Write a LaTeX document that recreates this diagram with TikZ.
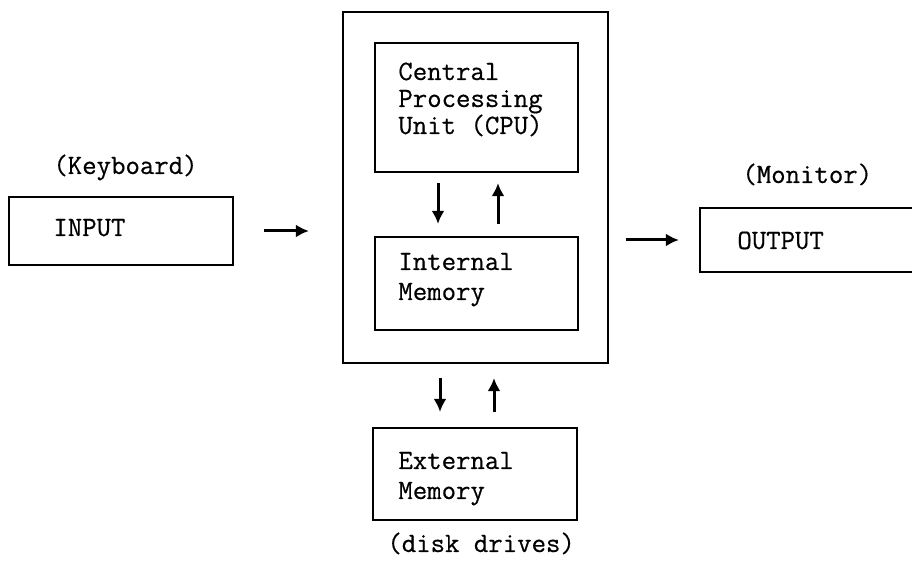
\documentclass[tikz,border=0pt]{standalone}
\usepackage{fontspec}
\newfontfamily\typew{Latin Modern Mono}[FakeBold=0.5]
\usetikzlibrary{arrows.meta}
\tikzset{
  box/.style={draw=black, line width=1.1pt, inner sep=0pt},
  txt/.style={font=\typew\fontsize{14}{15}\selectfont, inner sep=0pt, anchor=base west},
  arr/.style={line width=1.5pt, -{Latex[length=6.5pt,width=6.5pt]}}
}
\begin{document}
\begin{tikzpicture}[x=0.5pt,y=-0.5pt]
\useasboundingbox (0,0) rectangle (912,566);
\clip (0,0) rectangle (912,566);
% boxes
\node[box, minimum width=132.5pt, minimum height=175.5pt] (outer) at (475.5,187.5) {};
\node[box, minimum width=101.5pt, minimum height=64.5pt] (cpu) at (476.5,107.5) {};
\node[box, minimum width=101.5pt, minimum height=46.5pt] (mem) at (476.5,283.5) {};
\node[box, minimum width=102pt, minimum height=46pt] (ext) at (475,474) {};
\node[box, minimum width=112pt, minimum height=34pt] (input) at (121,231) {};
\node[box, minimum width=115pt, minimum height=32pt] (output) at (815,240) {};
% texts
\node[txt] (cpu1) at (398,80) {Central};
\node[txt] (cpu2) at (398,107) {Processing};
\node[txt] (cpu3) at (398,134) {Unit (CPU)};
\node[txt] (mem1) at (398,270) {Internal};
\node[txt] (mem2) at (398,300) {Memory};
\node[txt] (ext1) at (398,469) {External};
\node[txt] (ext2) at (398,499) {Memory};
\node[txt] (intxt) at (53,236) {INPUT};
\node[txt] (outtxt) at (737,249) {OUTPUT};
\node[txt] (kbd) at (53,174) {(Keyboard)};
\node[txt] (mon) at (742,183) {(Monitor)};
\node[txt] (disk) at (387,552) {(disk drives)};
% arrow columns
\coordinate (c1) at (438,0);
\coordinate (c2) at (498,0);
\coordinate (c3) at (440,0);
\coordinate (c4) at (494,0);
% arrows
\draw[arr, shorten <=15pt, shorten >=16.5pt] (input.east) -- (input.east -| outer.west);
\draw[arr, shorten <=8.5pt, shorten >=10pt] (outer.east |- output.west) -- (output.west);
\draw[arr, shorten <=5pt, shorten >=6pt] (cpu.south -| c1) -- (mem.north -| c1);
\draw[arr, shorten <=6pt, shorten >=5pt] (mem.north -| c2) -- (cpu.south -| c2);
\draw[arr, shorten <=7pt, shorten >=7.5pt] (outer.south -| c3) -- (ext.north -| c3);
\draw[arr, shorten <=7.5pt, shorten >=7pt] (ext.north -| c4) -- (outer.south -| c4);
\end{tikzpicture}
\end{document}
